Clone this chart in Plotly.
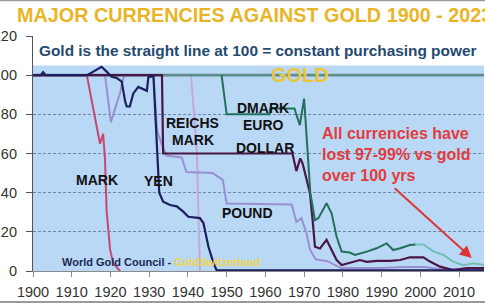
import plotly.graph_objects as go

FONT = "Liberation Sans, Arial, sans-serif"

# ---------------- data ----------------
gold_years = [1900, 2017]
gold_values = [100, 100]

mark_years = [1900, 1913.9, 1917.3, 1918.1, 1918.6, 1919.0, 1919.9, 1920.7, 1922.5]
mark_values = [100, 100, 65, 70, 57, 31, 11, 4, 0]

pound_years = [1900, 1918.6, 1920.1, 1921.2, 1922.5, 1923.3, 1924, 1931.1, 1932.1, 1933.6,
               1934.5, 1938.4, 1939.6, 1946.4, 1948, 1949, 1950, 1966.8, 1968, 1969.3,
               1970.6, 1971.5, 1973, 1976, 1978, 1979.6, 1990, 1996, 2001, 2005, 2016.5]
pound_values = [100, 100, 76, 83, 91, 98.5, 100, 100, 71, 63,
                59, 58, 50.5, 50, 48, 46.5, 34.5, 34, 25, 27,
                19.5, 11, 6, 5, 3, 1.5, 1.5, 2, 2, 1, 1]

yen_years = [1900, 1902, 1902.6, 1903.3, 1914, 1916.4, 1917.7, 1919, 1920.3, 1921.6, 1922.9,
             1923.8, 1924.2, 1925, 1925.9, 1927.2, 1928.5, 1929.4, 1929.8, 1931.1, 1932.4,
             1932.6, 1933.6, 1935.4, 1937.1, 1938.8, 1940.1, 1943.1, 1944, 1945.3, 1946.6,
             1947.4, 1960, 2016.5]
yen_values = [100, 100, 101.5, 100, 100, 102.6, 104.3, 101.8, 99.2, 98.6, 96.7,
              86.5, 84, 84, 90.7, 94, 93, 92, 99, 99.5, 48,
              40, 35.4, 33.7, 33, 30.3, 27.7, 27, 24.5, 12.4, 4,
              0.4, 0.3, 0.3]

reichsmark_years = [1924, 1940.8, 1942.3, 1943.1]
reichsmark_values = [100, 100, 62, 0]

dollar_years = [1900, 1933.3, 1933.6, 1967, 1968, 1969, 1969.6, 1971.5, 1972.2, 1972.8,
                1974.1, 1975.8, 1977.1, 1978.4, 1979.7, 1981.8, 1984.4, 1986.2, 1988.7,
                1992.2, 1994.8, 1997.3, 2000.8, 2002.5, 2005.1, 2008.5, 2012, 2016.5]
dollar_values = [100, 100, 60, 60, 51, 57.5, 55, 40, 26, 12.4,
                 11.5, 15.9, 10.7, 5.6, 3, 4, 5.6, 4.7, 5.2,
                 5.2, 5.6, 7, 7, 4.8, 2.2, 0.5, 1.5, 1.5]

dmark_years = [1948.7, 1950, 1961.1, 1961.3, 1967.5, 1968.9, 1970, 1971.1, 1971.6, 1972.8,
               1973.7, 1975.8, 1977.1, 1978.4, 1979.7, 1981.8, 1983.1, 1986.2, 1988.7,
               1991.3, 1993, 1994.8, 1997.3, 1998.8]
dmark_values = [100, 80, 80, 83, 83, 74.5, 88, 56.7, 40, 26,
                27, 34.6, 29.5, 17.5, 9.9, 9.4, 8.2, 9.9, 11.6,
                14.1, 10.7, 11.6, 13.3, 13.5]

euro_years = [1998.8, 2000.8, 2003.4, 2006, 2008.5, 2011.1, 2013.7, 2016.5]
euro_values = [13.5, 13.5, 10, 8.2, 4.8, 3, 4, 3]

x_ticks = [1900, 1910, 1920, 1930, 1940, 1950, 1960, 1970, 1980, 1990, 2000, 2010]
y_ticks = [0, 20, 40, 60, 80, 100, 120]

# ---------------- figure ----------------
fig = go.Figure()

def add_line(x, y, color, width=2.0):
    fig.add_trace(go.Scatter(x=x, y=y, mode="lines", line=dict(color=color, width=width),
                             hoverinfo="skip", showlegend=False))

add_line(reichsmark_years, reichsmark_values, "#c6a8d8", 2.0)
add_line(gold_years, gold_values, "#5e8d8c", 2.6)
add_line(mark_years, mark_values, "#c8476e", 2.0)
add_line(pound_years, pound_values, "#9a8fd2", 2.0)
add_line(dollar_years, dollar_values, "#4a1646", 2.2)
add_line(dmark_years, dmark_values, "#23705a", 2.0)
add_line(euro_years, euro_values, "#72c0b4", 2.0)
add_line(yen_years, yen_values, "#1d1f5e", 2.2)

# light-blue panel behind the currencies
fig.add_shape(type="rect", xref="paper", yref="y", x0=0, x1=1, y0=0, y1=105,
              fillcolor="#b9d8f6", line=dict(width=0), layer="below")

# thin grey frame strips at the top and bottom edges of the picture
PH = 235.0  # plot height in px
fig.add_shape(type="rect", xref="paper", yref="paper", x0=-0.08, x1=1.01,
              y0=(271 - 1.2) / PH, y1=(271 + 2) / PH,
              fillcolor="#9a9a9a", line=dict(width=0), layer="above")
fig.add_shape(type="rect", xref="paper", yref="paper", x0=-0.08, x1=1.01,
              y0=(271 - 305) / PH, y1=(271 - 301) / PH,
              fillcolor="#9a9a9a", line=dict(width=0), layer="above")

lab = dict(family=FONT, size=14, color="#111111")
labels = [
    ("MARK", 1916.5, 46.5), ("YEN", 1932.4, 46), ("REICHS", 1941.2, 75.5),
    ("MARK", 1941.4, 67), ("DMARK", 1959.4, 83), ("EURO", 1959.6, 74.6),
    ("DOLLAR", 1959.9, 62.7), ("POUND", 1955.3, 29.5),
]
for t, x, y in labels:
    fig.add_annotation(x=x, y=y, text="<b>%s</b>" % t, showarrow=False, font=lab)

fig.add_annotation(x=1968.9, y=100, text="<b>GOLD</b>", showarrow=False,
                   font=dict(family=FONT, size=20, color="#ecc53a"))

fig.add_annotation(x=1974.1, y=59.5, xanchor="left", align="left", showarrow=False,
                   text="<b>All currencies have<br>lost 97-99% vs gold<br>over 100 yrs</b>",
                   font=dict(family=FONT, size=16, color="#e23c3c"))

fig.add_annotation(x=2013.3, y=6.6, ax=1993, ay=42.9, axref="x", ayref="y", text="",
                   showarrow=True, arrowhead=2, arrowsize=1.2, arrowwidth=2,
                   arrowcolor="#dd3535")

fig.add_annotation(x=1907, y=4.6, xanchor="left", showarrow=False,
                   text="<b><span style='color:#1b2a52'>World Gold Council - </span>"
                        "<span style='color:#f1d648'>GoldSwitzerland</span></b>",
                   font=dict(family=FONT, size=11))

fig.add_annotation(xref="paper", x=0.009, y=112.5, xanchor="left", showarrow=False,
                   text="<b>Gold is the straight line at 100 = constant purchasing power</b>",
                   font=dict(family=FONT, size=15.4, color="#254a70"))

fig.update_layout(
    width=485, height=303,
    margin=dict(l=33, r=1, t=36, b=32),
    paper_bgcolor="white", plot_bgcolor="white",
    showlegend=False,
    title=dict(text="<b>MAJOR CURRENCIES AGAINST GOLD 1900 - 2023</b>",
               x=17 / 485, xanchor="left", xref="container",
               y=1 - 15.5 / 303, yanchor="middle", yref="container",
               font=dict(family=FONT, size=19.8, color="#e9b526")),
    xaxis=dict(range=[1900, 2016.45], tickvals=x_ticks, ticktext=[str(v) for v in x_ticks],
               showgrid=False, zeroline=False, showline=True, linecolor="#8a8a8a",
               linewidth=1.2, ticks="outside", ticklen=5, tickcolor="#8a8a8a",
               tickfont=dict(family=FONT, size=14.5, color="#333333"),
               automargin=False, ticklabelstandoff=2),
    yaxis=dict(range=[0, 120], tickvals=y_ticks, ticktext=[str(v) for v in y_ticks],
               showgrid=True, gridcolor="#6f84a9", griddash="3px,2px", gridwidth=1,
               zeroline=False, showline=True, linecolor="#555555", linewidth=1.2,
               ticks="outside", ticklen=6, tickcolor="#555555",
               tickfont=dict(family=FONT, size=14.5, color="#333333"),
               automargin=False, ticklabelstandoff=6),
)

fig.write_html("out.html")
